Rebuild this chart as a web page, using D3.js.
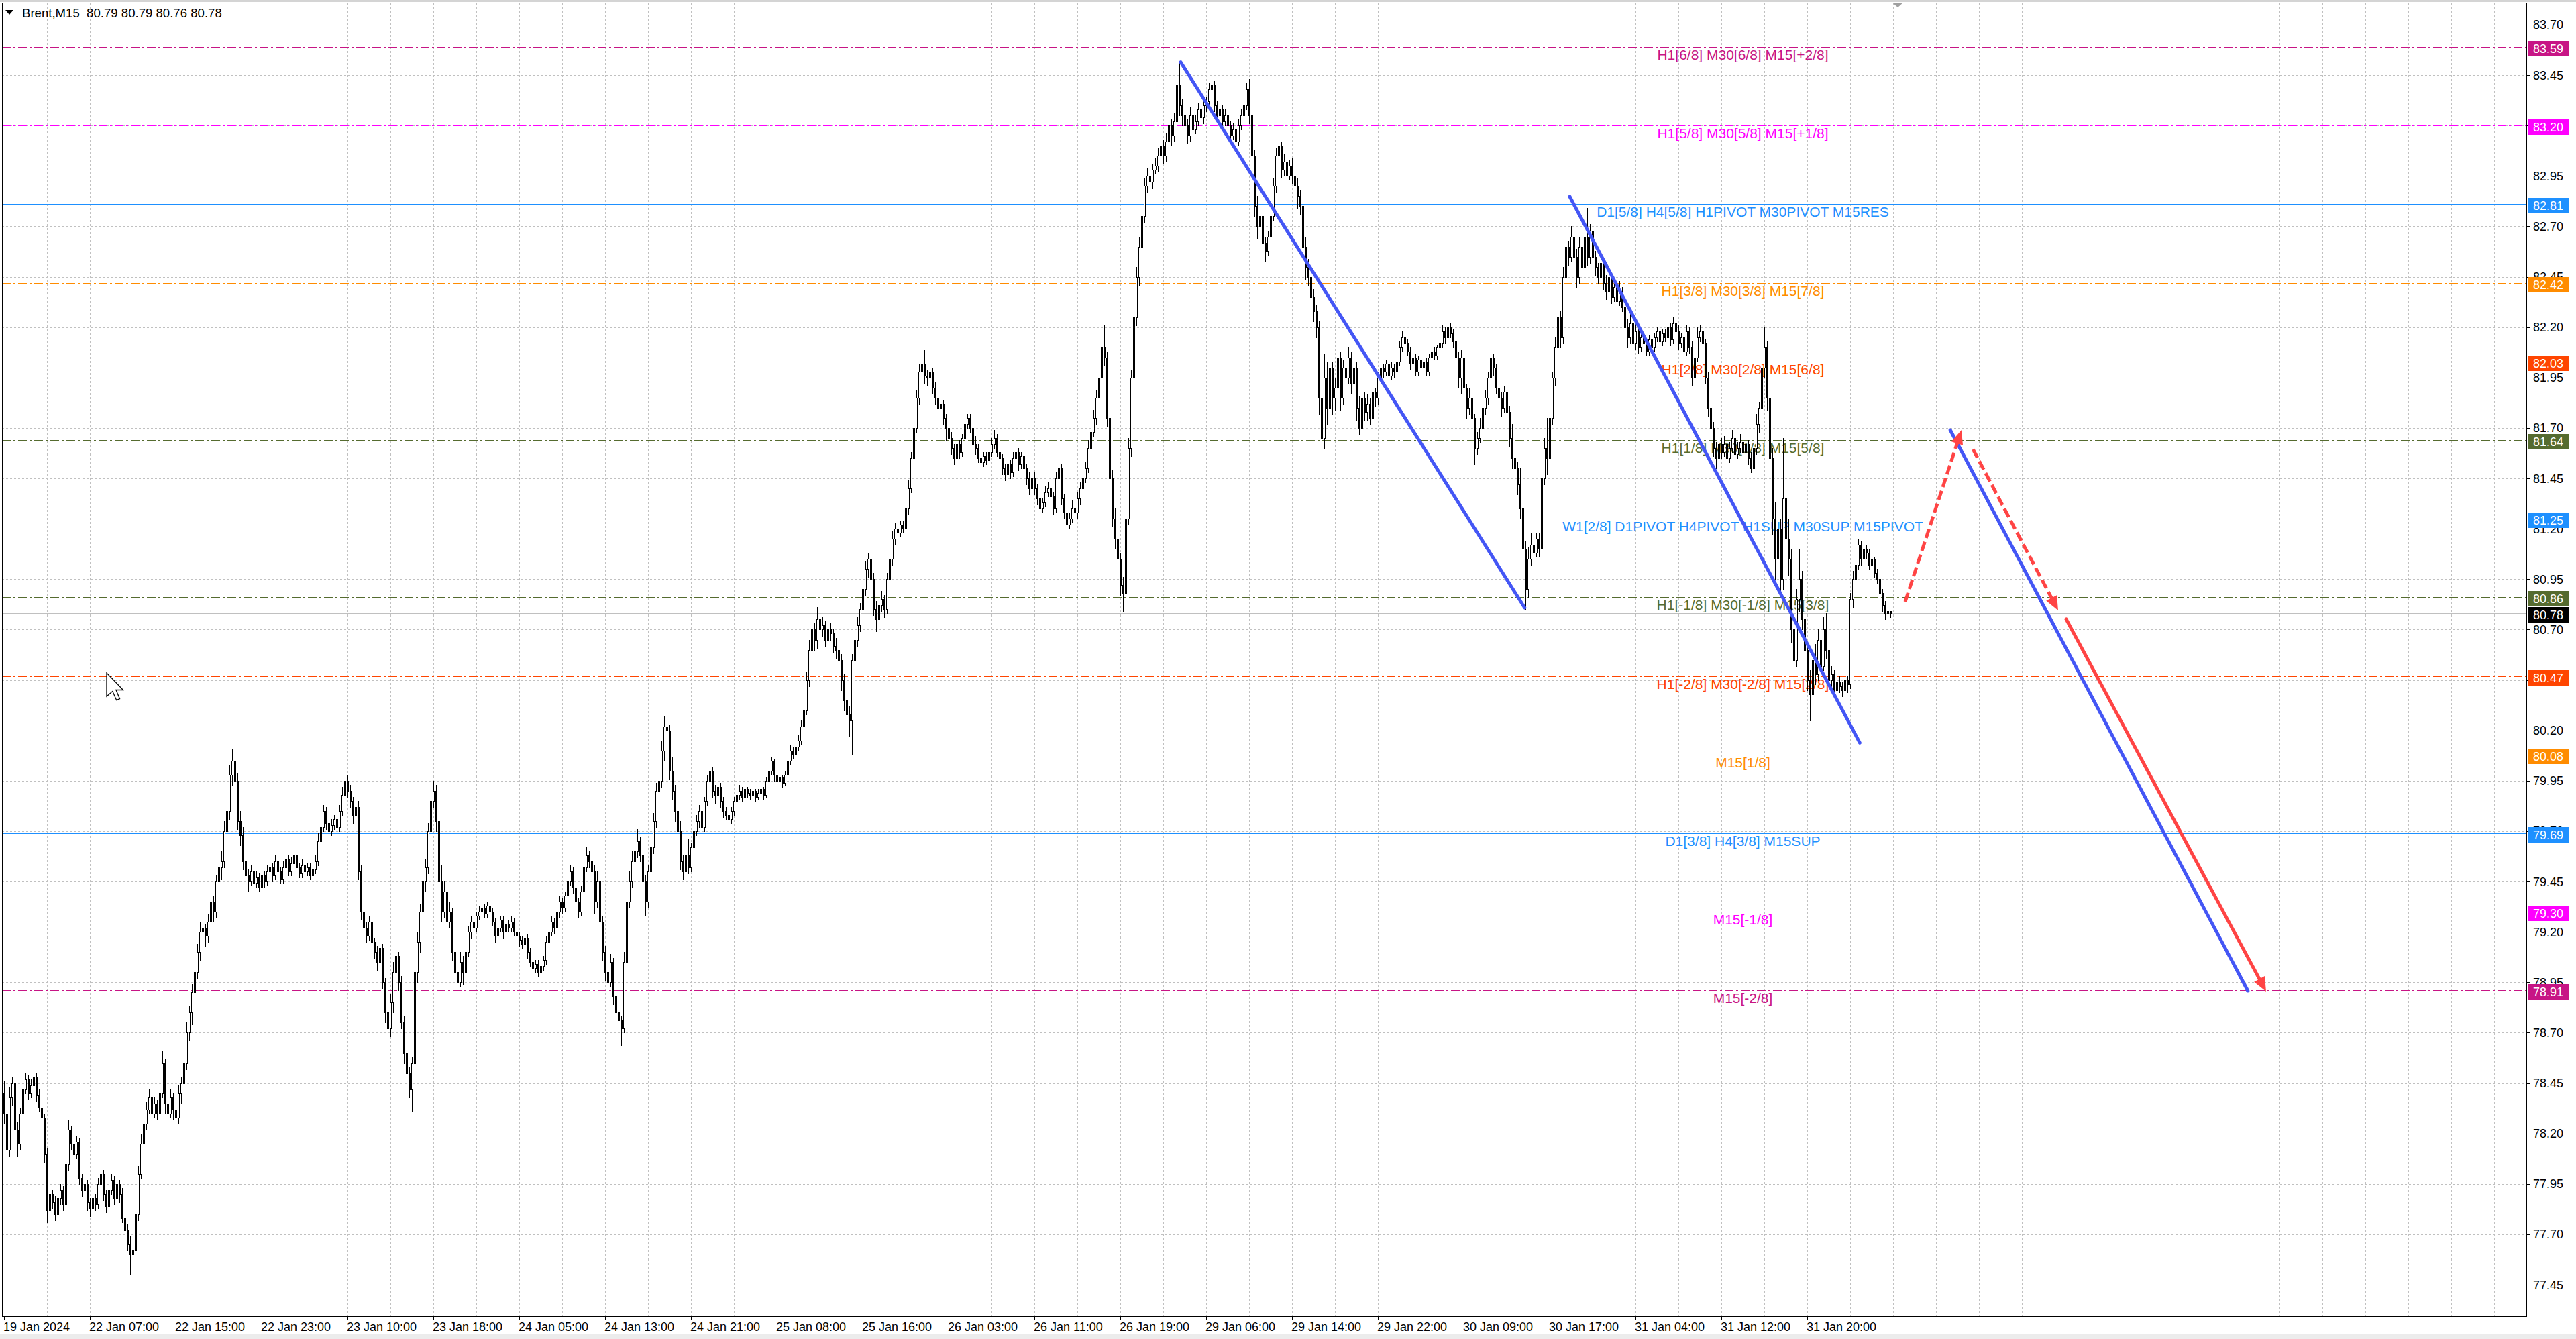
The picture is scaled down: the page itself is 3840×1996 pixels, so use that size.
<!DOCTYPE html>
<html><head><meta charset="utf-8">
<script src="https://cdn.jsdelivr.net/npm/d3@7"></script>
<style>html,body{margin:0;padding:0;background:#fff;overflow:hidden}svg{display:block}</style>
</head><body>
<svg id="c" width="3840" height="1996"></svg>
<script>
// ---------------- DATA (Brent, M15) ----------------
const opens=[
78.40,78.30,78.12,78.38,78.45,78.22,78.15,78.30,78.42,78.47,78.40,78.44,78.48,78.39,78.33,78.28,
78.10,77.82,77.90,77.86,77.80,77.88,77.92,77.85,78.05,78.22,78.15,78.10,78.16,77.98,77.92,77.95,
77.86,77.83,77.88,77.85,77.95,78.00,77.90,77.84,77.92,77.97,77.88,77.95,77.90,77.78,77.72,77.65,
77.60,77.62,77.80,78.00,78.15,78.25,78.32,78.38,78.30,78.35,78.30,78.40,78.55,78.35,78.30,78.38,
78.32,78.28,78.40,78.45,78.55,78.70,78.80,78.90,79.00,79.10,79.20,79.22,79.18,79.25,79.35,79.30,
79.45,79.52,79.55,79.70,79.80,79.98,80.05,79.95,79.75,79.68,79.55,79.48,79.45,79.50,79.44,79.47,
79.42,79.48,79.45,79.50,79.52,79.48,79.55,79.50,79.46,79.52,79.56,79.50,79.54,79.58,79.52,79.49,
79.53,79.50,79.52,79.48,79.51,79.55,79.65,79.72,79.80,79.74,79.70,79.73,79.76,79.72,79.80,79.88,
79.95,79.90,79.85,79.78,79.82,79.50,79.30,79.22,79.18,79.25,79.15,79.10,79.05,79.12,78.95,78.80,
78.72,78.85,79.00,79.08,78.95,78.75,78.60,78.50,78.42,78.55,79.00,79.15,79.30,79.45,79.52,79.70,
79.85,79.90,79.75,79.45,79.30,79.40,79.25,79.30,79.10,79.00,78.95,79.05,79.00,79.10,79.20,79.25,
79.22,79.28,79.30,79.32,79.29,79.33,79.30,79.25,79.18,79.22,79.26,79.20,79.24,79.22,79.25,79.20,
79.18,79.16,79.14,79.17,79.10,79.05,79.02,79.04,79.00,79.03,79.06,79.15,79.20,79.25,79.22,79.30,
79.35,79.32,79.38,79.45,79.50,79.42,79.35,79.30,79.40,79.52,79.58,79.55,79.50,79.35,79.45,79.25,
79.10,79.00,78.95,79.05,78.88,78.80,78.76,78.72,79.05,79.35,79.45,79.55,79.60,79.65,79.58,79.45,
79.35,79.50,79.62,79.75,79.90,79.95,80.10,80.22,80.20,80.00,79.90,79.80,79.70,79.55,79.50,79.58,
79.52,79.62,79.70,79.75,79.80,79.72,79.85,79.95,80.00,79.90,79.88,79.92,79.85,79.80,79.78,79.76,
79.80,79.85,79.88,79.90,79.87,79.91,79.89,79.88,79.90,79.87,79.89,79.91,79.88,79.95,80.00,80.05,
79.98,79.95,79.97,79.94,79.98,80.05,80.10,80.08,80.12,80.15,80.22,80.30,80.45,80.60,80.70,80.65,
80.75,80.70,80.72,80.65,80.70,80.68,80.62,80.60,80.55,80.45,80.35,80.28,80.25,80.55,80.65,80.72,
80.80,80.90,81.00,81.05,80.95,80.80,80.75,80.82,80.85,80.80,80.95,81.05,81.15,81.20,81.18,81.22,
81.20,81.30,81.40,81.55,81.70,81.85,81.98,82.02,81.96,81.95,81.98,81.90,81.85,81.80,81.82,81.75,
81.70,81.65,81.60,81.55,81.62,81.58,81.65,81.72,81.75,81.70,81.62,81.60,81.55,81.53,81.56,81.54,
81.58,81.62,81.65,81.58,81.55,81.50,81.47,81.52,81.48,81.55,81.58,81.52,81.56,81.50,81.45,81.40,
81.45,81.40,81.35,81.30,81.33,81.38,81.40,81.36,81.30,81.45,81.50,81.35,81.28,81.22,81.25,81.30,
81.28,81.35,81.40,81.45,81.50,81.60,81.68,81.75,81.85,81.95,82.10,82.05,81.75,81.45,81.25,81.15,
81.05,80.92,80.88,81.25,81.60,81.95,82.25,82.45,82.60,82.75,82.90,82.95,82.92,82.98,83.00,83.05,
83.10,83.05,83.12,83.20,83.15,83.22,83.40,83.30,83.25,83.20,83.15,83.25,83.18,83.22,83.28,83.24,
83.30,83.32,83.38,83.40,83.30,83.25,83.28,83.22,83.25,83.20,83.15,83.18,83.12,83.20,83.25,83.30,
83.38,83.25,83.05,82.80,82.70,82.75,82.62,82.58,82.65,82.75,82.90,83.05,83.10,82.98,83.02,82.95,
83.00,82.95,82.90,82.85,82.80,82.60,82.50,82.45,82.35,82.28,82.20,81.85,81.65,81.95,81.80,82.00,
81.85,81.90,82.05,81.85,82.00,81.95,82.05,81.92,82.00,81.80,81.70,81.85,81.78,81.82,81.75,81.88,
81.85,81.95,82.00,81.98,82.02,81.96,82.00,81.98,82.03,82.10,82.15,82.12,82.08,82.02,82.05,81.98,
82.04,82.00,82.03,81.98,82.05,82.08,82.06,82.10,82.12,82.18,82.15,82.20,82.17,82.13,82.05,81.95,
82.05,81.90,81.80,81.85,81.75,81.60,81.65,81.70,81.80,81.85,81.95,82.05,82.00,81.90,81.85,81.80,
81.88,81.78,81.65,81.55,81.50,81.42,81.30,81.10,80.90,81.05,81.12,81.08,81.15,81.10,81.45,81.60,
81.55,81.75,81.95,82.10,82.25,82.15,82.45,82.60,82.55,82.65,82.55,82.45,82.60,82.50,82.65,82.55,
82.68,82.55,82.50,82.45,82.52,82.42,82.38,82.45,82.35,82.40,82.33,82.38,82.30,82.20,82.15,82.22,
82.12,82.18,82.10,82.15,82.12,82.08,82.14,82.10,82.15,82.18,82.13,82.17,82.15,82.20,82.14,82.22,
82.18,82.12,82.15,82.08,82.18,82.10,81.95,82.05,82.15,82.18,82.12,81.95,81.80,81.70,81.60,81.55,
81.62,81.58,81.62,81.55,81.60,81.65,81.57,81.60,81.63,81.58,81.62,81.55,81.50,81.60,81.72,81.80,
82.00,82.10,81.85,81.55,81.25,81.05,81.20,80.95,81.35,81.15,81.05,80.70,80.55,80.85,80.95,80.75,
80.60,80.45,80.38,80.55,80.48,80.65,80.52,80.70,80.60,80.45,80.48,80.40,80.44,80.42,80.40,80.45,
80.43,80.85,80.95,81.02,81.12,81.05,81.10,81.08,81.02,81.05,80.98,80.95,80.88,80.82,80.78,80.79];
const highs=[
78.46,78.34,78.43,78.48,78.47,78.26,78.33,78.46,78.50,78.49,78.47,78.51,78.50,78.42,78.35,78.30,
78.13,77.94,77.92,77.89,77.91,77.95,77.94,78.08,78.27,78.24,78.18,78.19,78.18,78.00,77.98,77.97,
77.88,77.91,77.90,77.98,78.04,78.02,77.92,77.95,78.00,77.99,77.99,77.97,77.93,77.81,77.75,77.69,
77.66,77.83,78.04,78.20,78.28,78.36,78.42,78.40,78.38,78.37,78.43,78.61,78.57,78.38,78.42,78.40,
78.35,78.44,78.48,78.59,78.75,78.83,78.94,79.03,79.14,79.25,79.26,79.24,79.29,79.39,79.38,79.48,
79.58,79.60,79.75,79.85,80.03,80.11,80.08,79.99,79.80,79.72,79.60,79.51,79.53,79.52,79.50,79.49,
79.50,79.50,79.53,79.54,79.54,79.58,79.57,79.52,79.55,79.58,79.58,79.57,79.60,79.60,79.54,79.56,
79.55,79.54,79.54,79.53,79.58,79.69,79.76,79.83,79.82,79.77,79.76,79.78,79.78,79.83,79.92,80.01,
79.98,79.93,79.87,79.87,79.85,79.53,79.33,79.25,79.28,79.27,79.17,79.13,79.15,79.14,78.97,78.85,
78.89,79.05,79.13,79.10,78.98,78.78,78.64,78.53,78.58,79.04,79.20,79.34,79.50,79.56,79.74,79.90,
79.95,79.93,79.80,79.53,79.45,79.43,79.35,79.32,79.13,79.04,79.10,79.08,79.13,79.23,79.28,79.27,
79.30,79.33,79.38,79.34,79.35,79.35,79.32,79.27,79.25,79.28,79.28,79.27,79.26,79.28,79.27,79.22,
79.20,79.18,79.19,79.19,79.12,79.07,79.06,79.06,79.05,79.08,79.18,79.23,79.28,79.27,79.33,79.38,
79.37,79.40,79.49,79.53,79.52,79.44,79.37,79.43,79.55,79.62,79.60,79.57,79.53,79.50,79.47,79.28,
79.13,79.04,79.09,79.07,78.90,78.83,78.78,79.10,79.40,79.50,79.60,79.64,79.71,79.67,79.62,79.48,
79.53,79.66,79.79,79.94,79.98,80.15,80.27,80.34,80.23,80.07,79.93,79.82,79.75,79.58,79.63,79.66,
79.64,79.73,79.78,79.83,79.82,79.87,79.98,80.05,80.02,79.93,79.97,79.94,79.87,79.82,79.81,79.82,
79.87,79.90,79.93,79.92,79.93,79.92,79.91,79.92,79.91,79.91,79.93,79.92,79.97,80.03,80.07,80.06,
79.99,79.99,79.98,80.00,80.07,80.13,80.12,80.14,80.18,80.25,80.33,80.49,80.65,80.75,80.73,80.81,
80.79,80.76,80.74,80.76,80.73,80.70,80.66,80.62,80.58,80.48,80.38,80.32,80.58,80.69,80.76,80.83,
80.94,81.04,81.08,81.07,80.98,80.84,80.85,80.89,80.87,80.98,81.10,81.19,81.23,81.22,81.24,81.24,
81.33,81.44,81.58,81.73,81.89,82.02,82.06,82.09,81.99,82.01,82.00,81.93,81.87,81.85,81.84,81.77,
81.72,81.68,81.62,81.65,81.64,81.67,81.75,81.77,81.77,81.72,81.66,81.62,81.57,81.58,81.58,81.61,
81.65,81.69,81.67,81.60,81.57,81.52,81.55,81.54,81.58,81.62,81.60,81.58,81.58,81.52,81.48,81.48,
81.48,81.42,81.38,81.35,81.41,81.43,81.42,81.38,81.48,81.55,81.52,81.37,81.31,81.28,81.34,81.32,
81.38,81.43,81.48,81.53,81.64,81.71,81.79,81.89,81.99,82.15,82.21,82.08,81.82,81.49,81.30,81.19,
81.08,80.96,81.30,81.65,81.99,82.31,82.50,82.65,82.79,82.94,82.99,82.97,83.01,83.04,83.09,83.14,
83.13,83.16,83.24,83.23,83.26,83.45,83.51,83.33,83.28,83.23,83.29,83.27,83.25,83.31,83.30,83.33,
83.34,83.41,83.44,83.42,83.32,83.31,83.30,83.28,83.27,83.22,83.21,83.20,83.23,83.28,83.33,83.41,
83.43,83.28,83.08,82.85,82.81,82.77,82.65,82.68,82.78,82.94,83.09,83.14,83.12,83.06,83.04,83.03,
83.04,82.98,82.94,82.88,82.83,82.65,82.54,82.47,82.39,82.31,82.23,81.91,82.07,82.03,82.11,82.03,
81.95,82.11,82.08,82.04,82.03,82.10,82.08,82.04,82.03,81.86,81.90,81.88,81.87,81.85,81.91,81.90,
81.98,82.04,82.02,82.04,82.04,82.03,82.02,82.05,82.13,82.18,82.17,82.14,82.10,82.09,82.07,82.06,
82.06,82.05,82.05,82.07,82.10,82.10,82.11,82.14,82.21,82.20,82.23,82.22,82.19,82.16,82.08,82.09,
82.09,81.92,81.90,81.87,81.77,81.68,81.75,81.87,81.89,81.98,82.11,82.07,82.02,81.94,81.88,81.91,
81.92,81.81,81.72,81.59,81.53,81.50,81.35,81.14,81.11,81.18,81.15,81.18,81.18,81.51,81.65,81.75,
81.80,81.98,82.15,82.30,82.28,82.50,82.65,82.63,82.70,82.67,82.59,82.65,82.63,82.69,82.79,82.71,
82.71,82.58,82.52,82.56,82.54,82.46,82.48,82.47,82.43,82.42,82.43,82.40,82.33,82.24,82.27,82.24,
82.22,82.20,82.18,82.17,82.14,82.16,82.15,82.17,82.20,82.20,82.19,82.19,82.23,82.22,82.25,82.24,
82.21,82.17,82.17,82.21,82.20,82.13,82.08,82.20,82.21,82.20,82.14,81.98,81.82,81.73,81.63,81.65,
81.65,81.66,81.64,81.63,81.69,81.67,81.63,81.67,81.65,81.67,81.64,81.58,81.64,81.77,81.83,82.08,
82.20,82.13,81.90,81.60,81.33,81.35,81.25,81.65,81.45,81.25,81.10,80.82,80.90,81.10,80.99,80.80,
80.64,80.50,80.60,80.63,80.70,80.68,80.76,80.78,80.63,80.52,80.50,80.47,80.47,80.44,80.48,80.47,
80.88,80.99,81.05,81.15,81.14,81.15,81.12,81.10,81.07,81.06,81.00,80.99,80.90,80.84,80.80,80.79];
const lows=[
78.25,78.05,78.09,78.34,78.18,78.09,78.12,78.27,78.40,78.37,78.38,78.42,78.36,78.31,78.25,78.06,
77.76,77.79,77.83,77.77,77.78,77.85,77.82,77.83,78.02,78.12,78.06,78.08,77.95,77.89,77.90,77.82,
77.79,77.81,77.82,77.83,77.93,77.87,77.81,77.82,77.90,77.85,77.86,77.86,77.76,77.68,77.62,77.50,
77.54,77.60,77.77,77.98,78.12,78.22,78.30,78.27,78.28,78.27,78.28,78.38,78.30,78.24,78.28,78.27,
78.20,78.25,78.35,78.42,78.52,78.66,78.74,78.87,78.97,79.06,79.14,79.13,79.15,79.17,79.25,79.27,
79.42,79.46,79.52,79.62,79.76,79.93,79.87,79.71,79.63,79.51,79.43,79.40,79.43,79.41,79.42,79.40,
79.40,79.42,79.43,79.48,79.45,79.46,79.47,79.44,79.44,79.49,79.48,79.48,79.52,79.49,79.47,79.47,
79.47,79.48,79.46,79.46,79.49,79.53,79.62,79.70,79.71,79.68,79.68,79.71,79.70,79.70,79.78,79.85,
79.87,79.82,79.74,79.76,79.46,79.26,79.18,79.15,79.16,79.12,79.07,79.01,79.03,78.92,78.75,78.67,
78.68,78.80,78.96,78.91,78.72,78.55,78.45,78.38,78.31,78.52,78.95,79.10,79.27,79.40,79.49,79.66,
79.82,79.70,79.41,79.25,79.27,79.19,79.22,79.06,78.94,78.90,78.93,78.94,78.97,79.08,79.17,79.19,
79.20,79.26,79.28,79.27,79.27,79.28,79.23,79.15,79.16,79.20,79.17,79.18,79.20,79.20,79.18,79.15,
79.13,79.12,79.12,79.07,79.03,79.00,79.00,78.98,78.98,79.01,79.04,79.13,79.18,79.19,79.20,79.27,
79.29,79.30,79.36,79.43,79.39,79.32,79.27,79.28,79.38,79.50,79.52,79.47,79.29,79.32,79.22,79.06,
78.96,78.91,78.93,78.84,78.76,78.74,78.64,78.70,79.02,79.32,79.42,79.52,79.57,79.55,79.42,79.28,
79.32,79.47,79.59,79.72,79.87,79.92,80.05,80.15,79.96,79.86,79.75,79.66,79.51,79.46,79.48,79.49,
79.50,79.60,79.68,79.72,79.68,79.70,79.83,79.92,79.87,79.84,79.86,79.82,79.77,79.76,79.74,79.74,
79.78,79.83,79.86,79.85,79.86,79.87,79.86,79.87,79.85,79.86,79.87,79.86,79.87,79.93,79.98,79.95,
79.93,79.94,79.92,79.93,79.97,80.03,80.06,80.06,80.10,80.13,80.19,80.28,80.42,80.56,80.60,80.61,
80.65,80.67,80.62,80.63,80.65,80.59,80.56,80.52,80.40,80.30,80.22,80.17,80.08,80.52,80.62,80.69,
80.78,80.87,80.96,80.91,80.77,80.69,80.73,80.79,80.76,80.78,80.91,81.02,81.12,81.16,81.16,81.18,
81.18,81.27,81.38,81.52,81.68,81.82,81.95,81.92,81.91,81.93,81.87,81.82,81.77,81.78,81.72,81.64,
81.62,81.57,81.52,81.53,81.55,81.56,81.63,81.70,81.68,81.58,81.57,81.53,81.51,81.51,81.52,81.52,
81.56,81.60,81.56,81.52,81.47,81.44,81.45,81.45,81.46,81.53,81.49,81.50,81.48,81.42,81.37,81.38,
81.37,81.32,81.26,81.28,81.31,81.36,81.33,81.27,81.28,81.43,81.32,81.25,81.18,81.20,81.23,81.25,
81.25,81.32,81.38,81.43,81.48,81.57,81.66,81.72,81.83,81.92,82.01,81.71,81.40,81.21,81.10,81.00,
80.87,80.79,80.85,81.22,81.56,81.91,82.21,82.41,82.56,82.72,82.87,82.88,82.89,82.96,82.97,83.02,
83.01,83.02,83.09,83.10,83.12,83.20,83.25,83.20,83.16,83.11,83.12,83.14,83.16,83.20,83.21,83.21,
83.27,83.30,83.35,83.27,83.22,83.23,83.19,83.20,83.17,83.11,83.13,83.09,83.10,83.18,83.23,83.28,
83.21,83.01,82.75,82.64,82.67,82.58,82.53,82.56,82.63,82.73,82.87,83.02,82.94,82.95,82.91,82.93,
82.91,82.87,82.79,82.76,82.55,82.44,82.41,82.31,82.23,82.15,81.77,81.50,81.60,81.72,81.77,81.77,
81.79,81.86,81.79,81.82,81.90,81.92,81.87,81.89,81.74,81.67,81.66,81.74,81.74,81.72,81.73,81.81,
81.82,81.91,81.95,81.96,81.94,81.94,81.95,81.96,82.01,82.08,82.09,82.06,81.99,82.00,81.96,81.96,
81.96,81.98,81.96,81.96,82.03,82.04,82.04,82.08,82.10,82.12,82.13,82.15,82.10,82.02,81.90,81.87,
81.86,81.75,81.77,81.72,81.52,81.57,81.63,81.65,81.77,81.82,81.93,81.96,81.87,81.80,81.76,81.78,
81.75,81.61,81.50,81.46,81.37,81.25,81.02,80.80,80.86,81.02,81.04,81.06,81.06,81.07,81.42,81.47,
81.50,81.72,81.91,82.06,82.10,82.12,82.42,82.51,82.53,82.51,82.40,82.42,82.46,82.48,82.51,82.52,
82.51,82.46,82.42,82.43,82.39,82.34,82.35,82.32,82.33,82.31,82.31,82.28,82.16,82.10,82.12,82.09,
82.09,82.07,82.08,82.10,82.06,82.06,82.08,82.08,82.13,82.11,82.11,82.13,82.13,82.11,82.12,82.16,
82.09,82.10,82.05,82.06,82.07,81.91,81.93,82.03,82.13,82.09,81.92,81.76,81.67,81.56,81.50,81.53,
81.55,81.56,81.52,81.53,81.58,81.54,81.55,81.58,81.55,81.56,81.52,81.48,81.48,81.57,81.68,81.77,
81.95,81.79,81.50,81.17,80.95,80.97,80.89,80.90,81.05,80.97,80.64,80.49,80.52,80.79,80.70,80.54,
80.40,80.25,80.34,80.43,80.45,80.47,80.50,80.56,80.40,80.42,80.37,80.25,80.39,80.37,80.38,80.39,
80.41,80.81,80.92,81.00,81.02,81.03,81.05,81.00,81.00,80.96,80.93,80.85,80.79,80.75,80.76,80.76];
const closes=[
78.30,78.12,78.38,78.45,78.22,78.15,78.30,78.42,78.47,78.40,78.44,78.48,78.39,78.33,78.28,78.10,
77.82,77.90,77.86,77.80,77.88,77.92,77.85,78.05,78.22,78.15,78.10,78.16,77.98,77.92,77.95,77.86,
77.83,77.88,77.85,77.95,78.00,77.90,77.84,77.92,77.97,77.88,77.95,77.90,77.78,77.72,77.65,77.60,
77.62,77.80,78.00,78.15,78.25,78.32,78.38,78.30,78.35,78.30,78.40,78.55,78.35,78.30,78.38,78.32,
78.28,78.40,78.45,78.55,78.70,78.80,78.90,79.00,79.10,79.20,79.22,79.18,79.25,79.35,79.30,79.45,
79.52,79.55,79.70,79.80,79.98,80.05,79.95,79.75,79.68,79.55,79.48,79.45,79.50,79.44,79.47,79.42,
79.48,79.45,79.50,79.52,79.48,79.55,79.50,79.46,79.52,79.56,79.50,79.54,79.58,79.52,79.49,79.53,
79.50,79.52,79.48,79.51,79.55,79.65,79.72,79.80,79.74,79.70,79.73,79.76,79.72,79.80,79.88,79.95,
79.90,79.85,79.78,79.82,79.50,79.30,79.22,79.18,79.25,79.15,79.10,79.05,79.12,78.95,78.80,78.72,
78.85,79.00,79.08,78.95,78.75,78.60,78.50,78.42,78.55,79.00,79.15,79.30,79.45,79.52,79.70,79.85,
79.90,79.75,79.45,79.30,79.40,79.25,79.30,79.10,79.00,78.95,79.05,79.00,79.10,79.20,79.25,79.22,
79.28,79.30,79.32,79.29,79.33,79.30,79.25,79.18,79.22,79.26,79.20,79.24,79.22,79.25,79.20,79.18,
79.16,79.14,79.17,79.10,79.05,79.02,79.04,79.00,79.03,79.06,79.15,79.20,79.25,79.22,79.30,79.35,
79.32,79.38,79.45,79.50,79.42,79.35,79.30,79.40,79.52,79.58,79.55,79.50,79.35,79.45,79.25,79.10,
79.00,78.95,79.05,78.88,78.80,78.76,78.72,79.05,79.35,79.45,79.55,79.60,79.65,79.58,79.45,79.35,
79.50,79.62,79.75,79.90,79.95,80.10,80.22,80.20,80.00,79.90,79.80,79.70,79.55,79.50,79.58,79.52,
79.62,79.70,79.75,79.80,79.72,79.85,79.95,80.00,79.90,79.88,79.92,79.85,79.80,79.78,79.76,79.80,
79.85,79.88,79.90,79.87,79.91,79.89,79.88,79.90,79.87,79.89,79.91,79.88,79.95,80.00,80.05,79.98,
79.95,79.97,79.94,79.98,80.05,80.10,80.08,80.12,80.15,80.22,80.30,80.45,80.60,80.70,80.65,80.75,
80.70,80.72,80.65,80.70,80.68,80.62,80.60,80.55,80.45,80.35,80.28,80.25,80.55,80.65,80.72,80.80,
80.90,81.00,81.05,80.95,80.80,80.75,80.82,80.85,80.80,80.95,81.05,81.15,81.20,81.18,81.22,81.20,
81.30,81.40,81.55,81.70,81.85,81.98,82.02,81.96,81.95,81.98,81.90,81.85,81.80,81.82,81.75,81.70,
81.65,81.60,81.55,81.62,81.58,81.65,81.72,81.75,81.70,81.62,81.60,81.55,81.53,81.56,81.54,81.58,
81.62,81.65,81.58,81.55,81.50,81.47,81.52,81.48,81.55,81.58,81.52,81.56,81.50,81.45,81.40,81.45,
81.40,81.35,81.30,81.33,81.38,81.40,81.36,81.30,81.45,81.50,81.35,81.28,81.22,81.25,81.30,81.28,
81.35,81.40,81.45,81.50,81.60,81.68,81.75,81.85,81.95,82.10,82.05,81.75,81.45,81.25,81.15,81.05,
80.92,80.88,81.25,81.60,81.95,82.25,82.45,82.60,82.75,82.90,82.95,82.92,82.98,83.00,83.05,83.10,
83.05,83.12,83.20,83.15,83.22,83.40,83.30,83.25,83.20,83.15,83.25,83.18,83.22,83.28,83.24,83.30,
83.32,83.38,83.40,83.30,83.25,83.28,83.22,83.25,83.20,83.15,83.18,83.12,83.20,83.25,83.30,83.38,
83.25,83.05,82.80,82.70,82.75,82.62,82.58,82.65,82.75,82.90,83.05,83.10,82.98,83.02,82.95,83.00,
82.95,82.90,82.85,82.80,82.60,82.50,82.45,82.35,82.28,82.20,81.85,81.65,81.95,81.80,82.00,81.85,
81.90,82.05,81.85,82.00,81.95,82.05,81.92,82.00,81.80,81.70,81.85,81.78,81.82,81.75,81.88,81.85,
81.95,82.00,81.98,82.02,81.96,82.00,81.98,82.03,82.10,82.15,82.12,82.08,82.02,82.05,81.98,82.04,
82.00,82.03,81.98,82.05,82.08,82.06,82.10,82.12,82.18,82.15,82.20,82.17,82.13,82.05,81.95,82.05,
81.90,81.80,81.85,81.75,81.60,81.65,81.70,81.80,81.85,81.95,82.05,82.00,81.90,81.85,81.80,81.88,
81.78,81.65,81.55,81.50,81.42,81.30,81.10,80.90,81.05,81.12,81.08,81.15,81.10,81.45,81.60,81.55,
81.75,81.95,82.10,82.25,82.15,82.45,82.60,82.55,82.65,82.55,82.45,82.60,82.50,82.65,82.55,82.68,
82.55,82.50,82.45,82.52,82.42,82.38,82.45,82.35,82.40,82.33,82.38,82.30,82.20,82.15,82.22,82.12,
82.18,82.10,82.15,82.12,82.08,82.14,82.10,82.15,82.18,82.13,82.17,82.15,82.20,82.14,82.22,82.18,
82.12,82.15,82.08,82.18,82.10,81.95,82.05,82.15,82.18,82.12,81.95,81.80,81.70,81.60,81.55,81.62,
81.58,81.62,81.55,81.60,81.65,81.57,81.60,81.63,81.58,81.62,81.55,81.50,81.60,81.72,81.80,82.00,
82.10,81.85,81.55,81.25,81.05,81.20,80.95,81.35,81.15,81.05,80.70,80.55,80.85,80.95,80.75,80.60,
80.45,80.38,80.55,80.48,80.65,80.52,80.70,80.60,80.45,80.48,80.40,80.44,80.42,80.40,80.45,80.43,
80.85,80.95,81.02,81.12,81.05,81.10,81.08,81.02,81.05,80.98,80.95,80.88,80.82,80.78,80.79,80.78];

const priceTicks=[83.70,83.45,83.20,82.95,82.70,82.45,82.20,81.95,81.70,81.45,81.20,80.95,80.70,80.45,80.20,79.95,79.70,79.45,79.20,78.95,78.70,78.45,78.20,77.95,77.70,77.45];
const timeLabels=["19 Jan 2024","22 Jan 07:00","22 Jan 15:00","22 Jan 23:00","23 Jan 10:00","23 Jan 18:00","24 Jan 05:00","24 Jan 13:00","24 Jan 21:00","25 Jan 08:00","25 Jan 16:00","26 Jan 03:00","26 Jan 11:00","26 Jan 19:00","29 Jan 06:00","29 Jan 14:00","29 Jan 22:00","30 Jan 09:00","30 Jan 17:00","31 Jan 04:00","31 Jan 12:00","31 Jan 20:00"];
const levelPrices=[83.59,83.20,82.81,82.42,82.03,81.64,81.25,80.86,80.47,80.08,79.69,79.30,78.91];
const levelNames=["H1[6/8] M30[6/8] M15[+2/8]","H1[5/8] M30[5/8] M15[+1/8]","D1[5/8] H4[5/8] H1PIVOT M30PIVOT M15RES","H1[3/8] M30[3/8] M15[7/8]","H1[2/8] M30[2/8] M15[6/8]","H1[1/8] M30[1/8] M15[5/8]","W1[2/8] D1PIVOT H4PIVOT H1SUP M30SUP M15PIVOT","H1[-1/8] M30[-1/8] M15[3/8]","H1[-2/8] M30[-2/8] M15[2/8]","M15[1/8]","D1[3/8] H4[3/8] M15SUP","M15[-1/8]","M15[-2/8]"];
const lastPrice=80.78;
const titleText="Brent,M15  80.79 80.79 80.76 80.78";
// annotation lines, [bar, price]
const trendStart=[[438.5,83.515],[583.5,82.848],[725.3,81.690]];
const trendEnd=[[566.7,80.808],[691.6,80.138],[836.2,78.908]];
const arrowStart=[[708.5,80.838],[733.8,81.594],[768.5,80.752]];
const arrowEnd=[[729.5,81.690],[765.5,80.795],[843.0,78.905]];

// ---------------- STYLE ----------------
const levelColors=["#C71585","#FF00FF","#1E90FF","#FF8C00","#FF4500","#556B2F","#1E90FF","#556B2F","#FF4500","#FF8C00","#1E90FF","#FF00FF","#C71585"];
const levelSolid=[0,0,1,0,0,0,1,0,0,0,1,0,0];
const arrowDashed=[1,1,0];
const FONT="'Liberation Sans', Arial, sans-serif";
const L=3,T=4,R=3766,B=1962;

const svg=d3.select('#c');
const x=d3.scaleLinear().domain([0,940]).range([6,3766]);
const y=d3.scaleLinear().domain([77.45,83.70]).range([1915.1,37]);

svg.append('rect').attr('width',3840).attr('height',1996).attr('fill','#fff');
svg.append('rect').attr('x',0).attr('y',0).attr('width',3840).attr('height',3).attr('fill','#d4d4d4');
svg.append('rect').attr('x',0).attr('y',1988).attr('width',3840).attr('height',8).attr('fill','#ececec');

const clip=svg.append('defs').append('clipPath').attr('id','pa');
clip.append('rect').attr('x',L).attr('y',T).attr('width',R-L).attr('height',B-T);

// grid
const grid=svg.append('g').attr('stroke','#c0c0c0').attr('stroke-width',1).attr('stroke-dasharray','3,3').attr('shape-rendering','crispEdges');
priceTicks.forEach(p=>{const yy=Math.round(y(p))+0.5;grid.append('line').attr('x1',L).attr('x2',R).attr('y1',yy).attr('y2',yy);});
d3.range(16,941,16).forEach(i=>{const xx=Math.round(x(i))+0.5;grid.append('line').attr('x1',xx).attr('x2',xx).attr('y1',T).attr('y2',B);});

// level lines
const lv=svg.append('g').attr('clip-path','url(#pa)').attr('shape-rendering','crispEdges');
lv.append('line').attr('x1',L).attr('x2',R).attr('y1',Math.round(y(lastPrice))+0.5).attr('y2',Math.round(y(lastPrice))+0.5).attr('stroke','#c0c0c0').attr('stroke-width',1);
levelPrices.forEach((p,k)=>{
  const yy=Math.round(y(p))+0.5;
  lv.append('line').attr('x1',L).attr('x2',R).attr('y1',yy).attr('y2',yy)
    .attr('stroke',levelColors[k]).attr('stroke-width',1)
    .attr('stroke-dasharray',levelSolid[k]?null:'13,4,3,4');
});
// level texts
const lt=svg.append('g').attr('font-family',FONT).attr('font-size',21).attr('text-anchor','middle');
levelPrices.forEach((p,k)=>{
  lt.append('text').attr('x',x(648)).attr('y',y(p)+19).attr('fill',levelColors[k]).text(levelNames[k]);
});

// candles
const cg=svg.append('g').attr('clip-path','url(#pa)').attr('shape-rendering','crispEdges');
closes.forEach((c,i)=>{
  const o=opens[i],h=highs[i],l=lows[i];
  const cx=Math.round(x(i));
  const yh=Math.round(y(h)),yl=Math.round(y(l));
  cg.append('rect').attr('x',cx).attr('y',yh).attr('width',1).attr('height',Math.max(1,yl-yh+1)).attr('fill','#000');
  const yt=Math.round(y(Math.max(o,c))),yb=Math.round(y(Math.min(o,c)));
  const bh=Math.max(1,yb-yt+1);
  cg.append('rect').attr('x',cx-1).attr('y',yt).attr('width',3).attr('height',bh).attr('fill','#000');
  if(c>o && bh>2){cg.append('rect').attr('x',cx).attr('y',yt+1).attr('width',1).attr('height',bh-2).attr('fill','#fff');}
});

// blue trend lines
const tg=svg.append('g').attr('clip-path','url(#pa)');
trendStart.forEach((s,k)=>{
  const e=trendEnd[k];
  tg.append('line').attr('x1',x(s[0])).attr('y1',y(s[1])).attr('x2',x(e[0])).attr('y2',y(e[1]))
    .attr('stroke','#4456F5').attr('stroke-width',5).attr('stroke-linecap','round');
});
// red arrows
arrowStart.forEach((s,k)=>{
  const e=arrowEnd[k];
  const x1=x(s[0]),y1=y(s[1]),x2=x(e[0]),y2=y(e[1]);
  const dx=x2-x1,dy=y2-y1,len=Math.hypot(dx,dy),ux=dx/len,uy=dy/len;
  const hl=21,hw=9;
  const bx=x2-ux*hl,by=y2-uy*hl;
  tg.append('line').attr('x1',x1).attr('y1',y1).attr('x2',bx+ux*2).attr('y2',by+uy*2)
    .attr('stroke','#FF4444').attr('stroke-width',5).attr('stroke-linecap',arrowDashed[k]?'butt':'round')
    .attr('stroke-dasharray',arrowDashed[k]?'14,6':null);
  tg.append('path').attr('d',`M${x2},${y2}L${bx-uy*hw},${by+ux*hw}L${bx+uy*hw},${by-ux*hw}Z`).attr('fill','#FF4444');
});

// frame
svg.append('rect').attr('x',L+0.5).attr('y',T+0.5).attr('width',R-L).attr('height',B-T)
  .attr('fill','none').attr('stroke','#000').attr('stroke-width',1.5).attr('shape-rendering','crispEdges');

// right price axis
const ax=svg.append('g').attr('font-family',FONT).attr('font-size',18);
priceTicks.forEach(p=>{
  const yy=Math.round(y(p))+0.5;
  ax.append('line').attr('x1',R).attr('x2',R+6).attr('y1',yy).attr('y2',yy).attr('stroke','#000').attr('shape-rendering','crispEdges');
  ax.append('text').attr('x',3776).attr('y',y(p)).attr('dy','0.36em').attr('fill','#000').text(p.toFixed(2));
});
const boxP=levelPrices.concat([lastPrice]);
const boxC=levelColors.concat(['#000000']);
boxP.forEach((p,k)=>{
  const yy=y(p);
  ax.append('rect').attr('x',3768).attr('y',Math.round(yy-9)).attr('width',61).attr('height',23).attr('fill',boxC[k]);
  ax.append('text').attr('x',3776).attr('y',yy+2.5).attr('dy','0.36em').attr('fill','#fff').text(p.toFixed(2));
});

// time axis
const tx=svg.append('g').attr('font-family',FONT).attr('font-size',18);
timeLabels.forEach((t,k)=>{
  const xx=Math.round(x(k*32))+0.5;
  tx.append('line').attr('x1',xx).attr('x2',xx).attr('y1',B).attr('y2',B+6).attr('stroke','#000').attr('shape-rendering','crispEdges');
  tx.append('text').attr('x',xx-1.5).attr('y',1984).attr('fill','#000').text(t);
});

// title
svg.append('path').attr('d','M8,15L20,15L14,22Z').attr('fill','#000');
svg.append('text').attr('x',33).attr('y',26).attr('font-family',FONT).attr('font-size',18.6).attr('fill','#000').style('white-space','pre').text(titleText);

// chart shift marker
svg.append('path').attr('d','M2821,4L2837,4L2829,11Z').attr('fill','#a0a0a0');

// mouse cursor
svg.append('path').attr('d','M159,1003L159,1038L167.8,1030.5L173.7,1043.7L178.6,1041.7L172.9,1028.5L183.6,1028.5Z')
  .attr('fill','#fff').attr('stroke','#000').attr('stroke-width',1.3).attr('stroke-linejoin','miter');
</script>
</body></html>
